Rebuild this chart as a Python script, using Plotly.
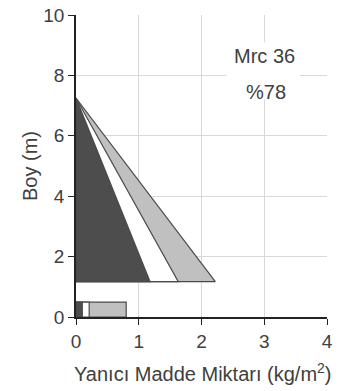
import plotly.graph_objects as go

# Data
layer_names = ["Koyu", "Beyaz", "Açık"]
layer_colors = ["#4d4d4d", "#ffffff", "#c0c0c0"]
crown_top = 7.25        # m, apex of triangles
crown_base = 1.17       # m, base of triangles
crown_widths = [1.18, 1.63, 2.22]   # kg/m2 at crown base
ground_height = 0.49
ground_widths = [0.10, 0.21, 0.80]
x_ticks = [0, 1, 2, 3, 4]
y_ticks = [0, 2, 4, 6, 8, 10]
label_lines = ["Mrc 36", "%78"]
x_title = "Yanıcı Madde Miktarı (kg/m<sup>2</sup>)"
y_title = "Boy (m)"

fig = go.Figure()
outline = "#4a4a4a"

# draw widest first so narrower ones overlay
for i in reversed(range(len(crown_widths))):
    w = crown_widths[i]
    fig.add_trace(go.Scatter(
        x=[0, 0, w, 0], y=[crown_top, crown_base, crown_base, crown_top],
        fill="toself", fillcolor=layer_colors[i], mode="lines",
        line=dict(color=outline, width=1.2), showlegend=False, hoverinfo="skip"))
for i in reversed(range(len(ground_widths))):
    w = ground_widths[i]
    fig.add_trace(go.Scatter(
        x=[0, 0, w, w, 0], y=[0, ground_height, ground_height, 0, 0],
        fill="toself", fillcolor=layer_colors[i], mode="lines",
        line=dict(color=outline, width=1.2), showlegend=False, hoverinfo="skip"))

# white label box hiding the grid behind the text
fig.add_shape(type="rect", x0=2.4, x1=3.57, y0=7.19, y1=9.1, xref="x", yref="y",
              fillcolor="white", line=dict(width=0), layer="between")
fig.add_annotation(x=3.01, y=8.65, text=label_lines[0], showarrow=False,
                   font=dict(size=20, color="#404040"))
fig.add_annotation(x=3.03, y=7.46, text=label_lines[1], showarrow=False,
                   font=dict(size=20, color="#404040"))
# x-axis title
fig.add_annotation(x=0.505, y=-0.185, xref="paper", yref="paper", text=x_title,
                   showarrow=False, yanchor="middle", font=dict(size=20, color="#404040"))

font_family = "Liberation Sans, Arial, sans-serif"
fig.update_layout(
    width=340, height=391,
    margin=dict(l=76, r=13, t=15, b=74),
    paper_bgcolor="white", plot_bgcolor="white",
    font=dict(family=font_family, size=19, color="#404040"),
    xaxis=dict(range=[0, 4], tickvals=x_ticks, showgrid=True, gridcolor="#d9d9d9",
               showline=True, linecolor="#222222", linewidth=1.5, ticks="outside",
               ticklen=6, tickcolor="#222222", zeroline=False, automargin=False,
               tickfont=dict(size=19)),
    yaxis=dict(range=[0, 10], tickvals=y_ticks, showgrid=True, gridcolor="#d9d9d9",
               showline=True, linecolor="#222222", linewidth=1.5, ticks="outside",
               ticklen=6, tickcolor="#222222", zeroline=False, automargin=False,
               title=dict(text=y_title, font=dict(size=20), standoff=0),
               tickfont=dict(size=19)),
)
fig.write_html("out.html")
